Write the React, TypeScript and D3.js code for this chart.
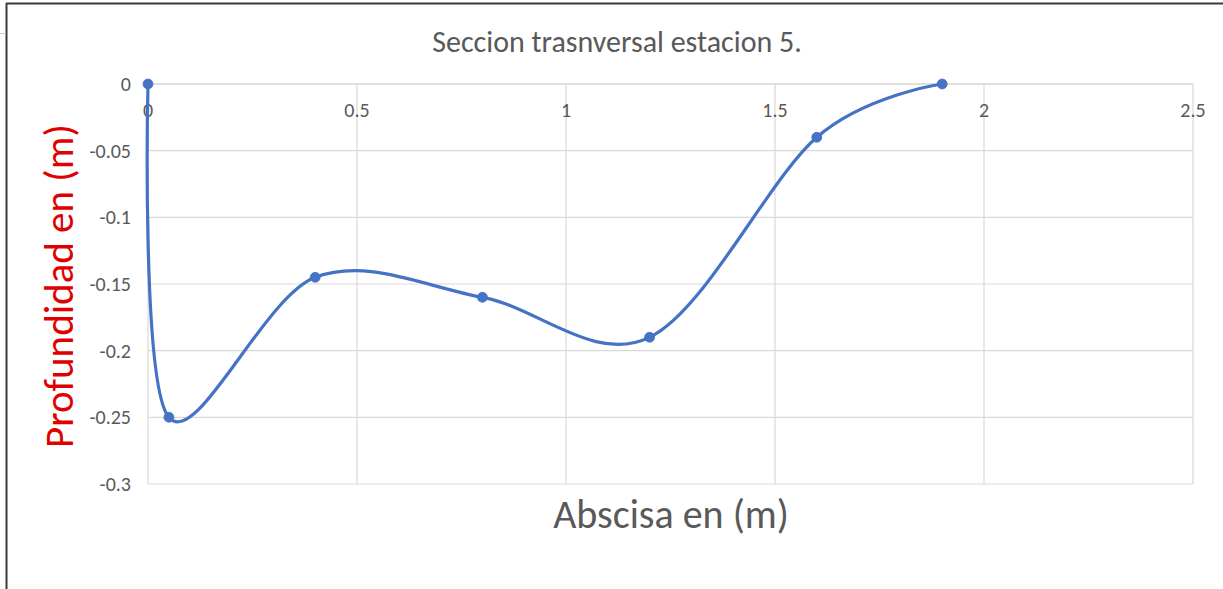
import React from "react";
import * as d3 from "d3";

const abscisa = [0, 0.05, 0.4, 0.8, 1.2, 1.6, 1.9];
const profundidad = [0, -0.25, -0.145, -0.16, -0.19, -0.04, 0];
const xTicks = [0, 0.5, 1, 1.5, 2, 2.5];
const yTicks = [0, -0.05, -0.1, -0.15, -0.2, -0.25, -0.3];
const titleText = "Seccion trasnversal estacion 5.";
const xTitle = "Abscisa en (m)";
const yTitle = "Profundidad en (m)";

export default function App() {
  const W = 1223, H = 589;
  const left = 148, right = 1193, top = 84, bottom = 484;
  const x = d3.scaleLinear().domain([0, 2.5]).range([left, right]);
  const y = d3.scaleLinear().domain([0, -0.3]).range([top, bottom]);
  const pts: [number, number][] = abscisa.map((a, i) => [a, profundidad[i]]);
  const line = d3
    .line<[number, number]>()
    .x((d) => x(d[0]))
    .y((d) => y(d[1]))
    .curve(d3.curveCardinal.tension(0));
  const font = "Carlito, Calibri, 'Open Sans', 'Liberation Sans', sans-serif";
  const gray = "#595959";
  const blue = "#4472C4";
  return (
    <svg
      width={W}
      height={H}
      style={{ position: "absolute", left: 0, top: 0, background: "#fff" }}
      fontFamily={font}
    >
      <rect x={0} y={0} width={W} height={H} fill="#fff" />
      {/* frame */}
      <line x1={6} x2={W} y1={3.5} y2={3.5} stroke="#3a3a3a" strokeWidth={2} />
      <line x1={6.5} x2={6.5} y1={3} y2={H} stroke="#3a3a3a" strokeWidth={2} />
      <line x1={0} x2={6} y1={33.5} y2={33.5} stroke="#c8c8c8" strokeWidth={1} />
      {/* gridlines */}
      {yTicks.map((t) => (
        <line key={"gy" + t} x1={left} x2={right} y1={y(t)} y2={y(t)} stroke={t === 0 ? "#bfbfbf" : "#d9d9d9"} strokeWidth={1.2} />
      ))}
      {xTicks.map((t) => (
        <line key={"gx" + t} x1={x(t)} x2={x(t)} y1={top} y2={bottom} stroke="#d9d9d9" strokeWidth={1.2} />
      ))}
      {/* tick labels */}
      {xTicks.map((t) => (
        <text key={"tx" + t} x={x(t)} y={117} textAnchor="middle" fontSize={20} fill={gray}>
          {String(t)}
        </text>
      ))}
      {yTicks.map((t) => (
        <text key={"ty" + t} x={131} y={y(t)} dy="0.35em" textAnchor="end" fontSize={20} fill={gray}>
          {String(t)}
        </text>
      ))}
      {/* series */}
      <path d={line(pts) || ""} fill="none" stroke={blue} strokeWidth={3.2} strokeLinecap="round" />
      {pts.map((p, i) => (
        <circle key={"p" + i} cx={x(p[0])} cy={y(p[1])} r={5} fill={blue} stroke={blue} strokeWidth={0.75} />
      ))}
      {/* titles */}
      <text x={617} y={52} textAnchor="middle" fontSize={30} fill={gray}>
        {titleText}
      </text>
      <text x={671} y={528} textAnchor="middle" fontSize={40} fill={gray}>
        {xTitle}
      </text>
      <text
        transform={`translate(73, 286) rotate(-90)`}
        textAnchor="middle"
        fontSize={41}
        fill="#e00000"
      >
        {yTitle}
      </text>
    </svg>
  );
}
